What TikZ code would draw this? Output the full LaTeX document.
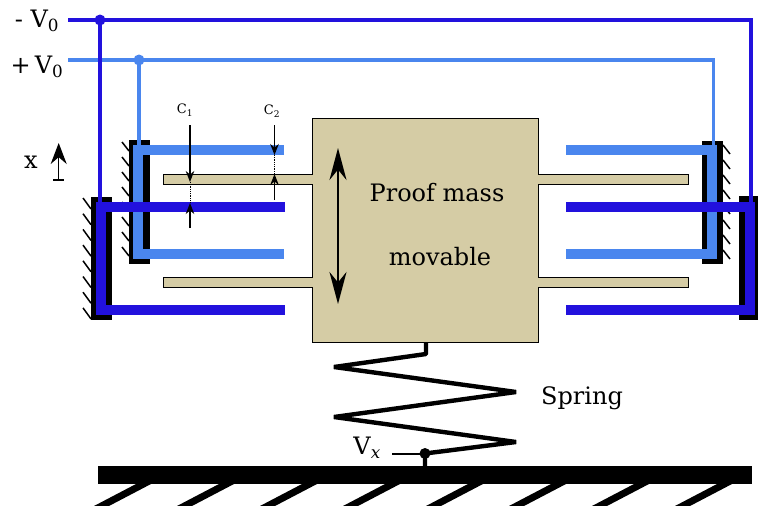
\documentclass[tikz,border=0pt]{standalone}
\usepackage{fontspec}
\setmainfont{DejaVu Serif}
\usetikzlibrary{arrows.meta}
\definecolor{plus}{HTML}{4A86EE}
\definecolor{minus}{HTML}{2211DD}
\definecolor{mass}{HTML}{D5CCA5}

\begin{document}
\begin{tikzpicture}[x=1pt,y=-1pt,
 wire/.style={line width=3.5pt},
 label/.style={font=\fontsize{24}{28}\selectfont,inner sep=0pt},
 small/.style={font=\fontsize{13}{15}\selectfont,inner sep=0pt},
 gap/.style={line width=1.6pt,-{Stealth[length=11pt,width=8.5pt]}},
 hatch/.style={line width=1.5pt}]

\newcommand{\comb}[5] % [color][x wall][x end][y top][y bottom]
{
 \draw[#1,line width=10pt,miter limit=10] (#3,#4) -- (#2,#4) -- (#2,#5) -- (#3,#5);
}
\newcommand{\block}[4] % [x0][y0][x1][y1]
{
 \fill[black] (#1,#2) rectangle (#3,#4);
}

\useasboundingbox (0,0) rectangle (758,506);

% fixed parts
\block{129}{140}{150}{264}
\block{91}{197}{112}{320}
\block{702}{141}{723}{264}
\block{739}{196}{758}{320}
\foreach \y in {0,1,...,7}
{
 \draw[hatch] (122,142+15*\y) -- (129,151+15*\y);
 \draw[hatch] (83,198+15.7*\y) -- (91,209+15.7*\y);
 \draw[hatch] (723,145+15*\y) -- (730,154+15*\y);
}

% wires
\coordinate (plusdot) at (139,60);
\coordinate (minusdot) at (100,20);
\draw[plus,wire] (68,60) -- (plusdot) -- (713.5,60) -- (713.5,150);
\draw[plus,wire] (plusdot) -- (139,150);
\draw[minus,wire] (68,20) -- (minusdot) -- (751,20) -- (751,207);
\draw[minus,wire] (minusdot) -- (100,207);
\fill[plus] (plusdot) circle (5.5);
\fill[minus] (minusdot) circle (5.5);

% combs
\comb{plus}{138}{284}{150}{254}
\comb{plus}{712}{566}{150}{254}
\comb{minus}{101}{285}{207}{310}
\comb{minus}{750}{566}{207}{310}

% mass
\draw[fill=mass,line width=0.9pt] (312,118) -- (538,118) -- (538,174) -- (688,174) -- (688,184)
  -- (538,184) -- (538,277) -- (688,277) -- (688,287) -- (538,287) -- (538,342) -- (312,342)
  -- (312,287) -- (163,287) -- (163,277) -- (312,277) -- (312,184) -- (163,184) -- (163,174)
  -- (312,174) -- cycle;
\draw[line width=2.2pt,{Stealth[length=32pt,width=17pt]}-{Stealth[length=32pt,width=17pt]}] (338,148) -- (338,304);
\node[label] (proof) at (437,192.5) {Proof mass};
\node[label] (movable) at (440,257) {movable};

% gaps
\foreach \x/\a/\b/\c/\d in {190/125/182/228/203,274.5/125/155/200/174}
{
 \draw[gap] (\x,\a) -- (\x,\b);
 \draw[gap] (\x,\c) -- (\x,\d);
 \draw[densely dotted,line width=0.8pt] (\x,\b) -- (\x,\d);
}
\node[small] (cone) at (185,110) {C\textsubscript{1}};
\node[small] (ctwo) at (272,111) {C\textsubscript{2}};

% x arrow
\draw[line width=1.3pt,-{Stealth[length=21pt,width=16pt]}] (58.7,180) -- (58.7,143);
\draw[line width=1.6pt] (53,180) -- (64,180);
\node[label] (xlabel) at (31,162) {x};
\node[label] (vminus) at (37,21) {- V\textsubscript{0}};
\node[label] (vplus) at (37,67) {+\,V\textsubscript{0}};

% spring
\coordinate (vxdot) at (425,453.5);
\draw[line width=4.4pt,line join=bevel] (426,342) -- (426,354) -- (334,367) -- (516,392) -- (334,417)
  -- (516,442) -- (vxdot) -- (425,466);
\fill (vxdot) circle (5.5);
\node[label] (spring) at (582,398) {Spring};
\node[label,anchor=east] (vx) at (381,448) {V\textsubscript{\itshape x}};
\coordinate (vxend) at (392,453.5);
\draw[line width=2pt] (vxend) -- (vxdot);

% ground
\fill (98,466) rectangle (752,484);
\foreach \x in {136,219,302,385,468,551,634,717}
 \fill (\x,484) -- (\x+15,484) -- (\x-27,506) -- (\x-42,506) -- cycle;

\end{tikzpicture}
\end{document}
